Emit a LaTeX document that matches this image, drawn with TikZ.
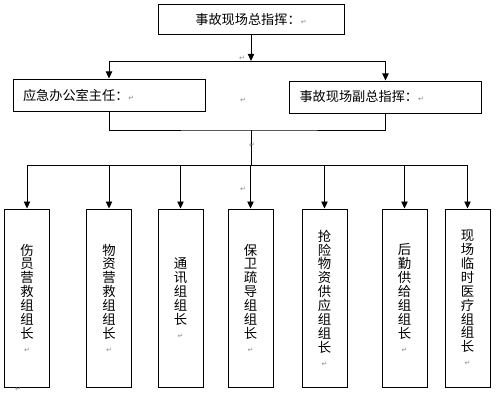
\documentclass[tikz,border=0pt]{standalone}
\usepackage{fontspec}
\newfontfamily\cjk{Noto Sans CJK SC}
\newfontfamily\symf{DejaVu Sans}
\usetikzlibrary{positioning, arrows.meta}
\newcommand{\pmark}{{\color{black!45}\symf\fontsize{4}{4}\selectfont ↵}}
\tikzset{
  box/.style={draw, line width=0.55pt, inner sep=0pt, font=\cjk\fontsize{7.5}{8}\selectfont},
  headbox/.style={box, minimum width=3.72cm, minimum height=0.6cm},
  sidebox/.style={box, minimum height=0.64cm, text width=3.44cm, align=left, inner xsep=0.2cm},
  groupbox/.style={box, minimum width=0.9cm, minimum height=3.56cm, align=center, font=\cjk\fontsize{7.6}{7.9}\selectfont},
  arr/.style={-{Triangle[length=4pt,width=3.6pt]}, line width=0.55pt},
  link/.style={line width=0.55pt},
  stray/.style={inner sep=0pt},
}

\begin{document}
\begin{tikzpicture}[x=0.02cm, y=-0.02cm]
    \useasboundingbox (0,0) rectangle (500,393);
    % Leitung
    \node[headbox] (chief) at (251,19.5) {事故现场总指挥：\pmark};
    \node[sidebox] (office) at (109,95) {应急办公室主任：\pmark};
    \node[sidebox] (deputy) at (385.5,97) {事故现场副总指挥：\pmark};
    % Knotenpunkte
    \coordinate (split) at (251,61);
    \coordinate (merge) at (251,130);
    \coordinate (fan) at (251,165);
    % Gruppen
    \node[groupbox] (g1) at (27,298) {伤\\员\\营\\救\\组\\组\\长\\\pmark};
    \node[groupbox] (g2) at (109,298) {物\\资\\营\\救\\组\\组\\长\\\pmark};
    \node[groupbox] (g3) at (180.5,298) {通\\讯\\组\\组\\长\\\pmark};
    \node[groupbox] (g4) at (250.5,298) {保\\卫\\疏\\导\\组\\组\\长\\\pmark};
    \node[groupbox] (g5) at (324.5,298) {抢\\险\\物\\资\\供\\应\\组\\组\\长\\\pmark};
    \node[groupbox] (g6) at (404.5,298) {后\\勤\\供\\给\\组\\组\\长\\\pmark};
    \node[groupbox] (g7) at (467.5,298) {现\\场\\临\\时\\医\\疗\\组\\组\\长\\\pmark};
    % Verbindungen
    \draw[arr] (chief) -- (split);
    \draw[arr] (split) -| (office);
    \draw[arr] (split) -| (deputy);
    \draw[link] (office) |- (merge) -| (deputy);
    \draw[link] (merge) -- (fan);
    \foreach \g in {g1,g2,g3,g4,g5,g6,g7}
      \draw[arr] (fan) -| (\g);
    % Absatzmarken
    \node[stray] (m1) at (242,58) {\pmark};
    \node[stray] (m2) at (243,100) {\pmark};
    \node[stray] (m3) at (252,145) {\pmark};
    \node[stray] (m4) at (243,189) {\pmark};
    \node[stray] (m5) at (18,389) {\pmark};
\end{tikzpicture}
\end{document}
